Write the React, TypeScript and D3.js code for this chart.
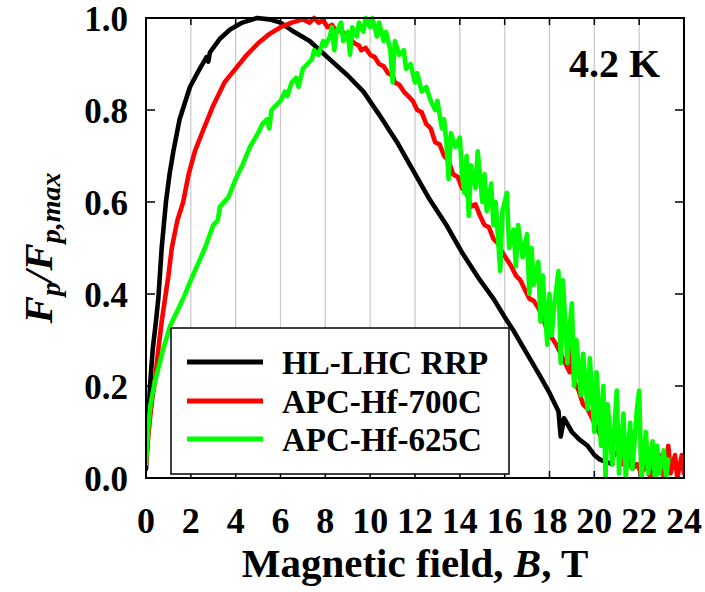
import React from "react";
import * as d3 from "d3";

const xTicks = [0, 2, 4, 6, 8, 10, 12, 14, 16, 18, 20, 22, 24];
const yTicks = [0, 0.2, 0.4, 0.6, 0.8, 1.0];
const seriesNames = ["HL-LHC RRP", "APC-Hf-700C", "APC-Hf-625C"];
const seriesColors = ["#000000", "#ff0000", "#00ff00"];

const blackData: [number, number][] = [
  [0, 0.02], [0.08, 0.1], [0.18, 0.2], [0.3, 0.28], [0.42, 0.33], [0.55, 0.39], [0.7, 0.5],
  [0.89, 0.6], [1.05, 0.66], [1.22, 0.71], [1.5, 0.78], [1.96, 0.85], [2.4, 0.89], [2.7, 0.915],
  [2.78, 0.905], [2.85, 0.925], [3.3, 0.955], [3.75, 0.975], [4.3, 0.99], [4.95, 1.0], [5.5, 0.997],
  [6.0, 0.99], [6.6, 0.97], [7.3, 0.95], [8.2, 0.91], [9.0, 0.875], [9.7, 0.84], [10.4, 0.79],
  [11.2, 0.73], [11.9, 0.67], [12.6, 0.61], [13.4, 0.55], [14.1, 0.49], [14.9, 0.43], [15.5, 0.39],
  [16.0, 0.35], [16.4, 0.32], [17.0, 0.27], [17.6, 0.22], [18.0, 0.185], [18.4, 0.145], [18.5, 0.09],
  [18.65, 0.13], [19.0, 0.1], [19.3, 0.085], [19.7, 0.07], [20.0, 0.05], [20.25, 0.04], [20.8, 0.03],
];

const redData: [number, number][] = [
  [0, 0.03], [0.1, 0.09], [0.2, 0.14], [0.3, 0.18], [0.4, 0.21], [0.55, 0.28], [0.7, 0.34],
  [0.85, 0.39], [1.0, 0.44], [1.15, 0.5], [1.4, 0.56], [1.66, 0.6], [1.9, 0.66], [2.18, 0.71],
  [2.5, 0.75], [3.0, 0.81], [3.5, 0.86], [4.0, 0.89], [4.5, 0.92], [5.0, 0.945], [5.5, 0.965],
  [6.0, 0.98], [6.5, 0.99], [7.0, 0.997], [7.3, 0.99], [7.5, 1.0], [7.7, 0.99], [7.9, 0.995],
  [8.1, 0.98], [8.3, 0.985], [8.5, 0.97], [8.7, 0.975], [8.9, 0.96], [9.1, 0.955], [9.3, 0.945],
  [9.5, 0.94], [9.6, 0.93], [9.8, 0.935], [10.0, 0.92], [10.2, 0.915], [10.4, 0.9], [10.6, 0.895],
  [10.8, 0.88], [11.0, 0.875], [11.1, 0.86], [11.3, 0.855], [11.5, 0.84], [11.7, 0.83], [11.9, 0.82],
  [12.1, 0.8], [12.3, 0.795], [12.5, 0.77], [12.7, 0.76], [12.9, 0.73], [13.1, 0.725], [13.3, 0.7],
  [13.5, 0.69], [13.7, 0.66], [13.9, 0.655], [14.1, 0.63], [14.3, 0.62], [14.5, 0.59], [14.7, 0.595],
  [14.9, 0.57], [15.1, 0.55], [15.3, 0.545], [15.5, 0.52], [15.7, 0.51], [15.9, 0.49], [16.1, 0.475],
  [16.3, 0.46], [16.5, 0.44], [16.7, 0.43], [16.9, 0.41], [17.1, 0.39], [17.3, 0.385], [17.5, 0.37],
  [17.7, 0.35], [17.9, 0.32], [18.1, 0.305], [18.3, 0.29], [18.5, 0.27], [18.7, 0.25], [18.9, 0.23],
  [19.0, 0.3], [19.1, 0.21], [19.3, 0.19], [19.5, 0.16], [19.7, 0.15], [19.9, 0.13], [20.1, 0.11],
  [20.3, 0.09], [20.5, 0.085], [20.7, 0.07], [20.9, 0.05], [21.1, 0.06], [21.3, 0.03], [21.5, 0.04],
  [21.7, 0.02], [21.9, 0.03], [22.1, 0.01], [22.3, 0.03], [22.5, 0.0], [22.7, 0.06], [22.8, 0.01],
  [23.0, 0.05], [23.1, 0.0], [23.3, 0.07], [23.4, 0.01], [23.6, 0.05], [23.7, 0.0], [23.9, 0.05],
  [24.0, 0.01],
];

const greenData: [number, number][] = [
  [0, 0.03], [0.1, 0.11], [0.2, 0.16], [0.4, 0.21], [0.77, 0.28], [1.07, 0.33], [1.66, 0.39],
  [2.0, 0.43], [2.63, 0.5], [3.0, 0.55], [3.2, 0.56], [3.3, 0.59], [3.67, 0.61], [4.0, 0.65],
  [4.3, 0.68], [4.64, 0.72], [5.0, 0.75], [5.2, 0.77], [5.4, 0.78], [5.5, 0.76], [5.6, 0.8],
  [5.8, 0.81], [6.0, 0.82], [6.2, 0.84], [6.3, 0.83], [6.5, 0.86], [6.7, 0.87], [6.8, 0.85],
  [7.0, 0.89], [7.2, 0.9], [7.4, 0.91], [7.5, 0.93], [7.7, 0.92], [7.9, 0.95], [8.0, 0.94],
  [8.2, 0.96], [8.3, 0.98], [8.4, 0.93], [8.5, 0.97], [8.7, 0.99], [8.8, 0.95], [9.0, 0.97],
  [9.1, 0.92], [9.2, 0.98], [9.4, 0.96], [9.5, 0.99], [9.7, 0.97], [9.8, 1.0], [10.0, 0.98],
  [10.1, 1.0], [10.3, 0.96], [10.4, 0.99], [10.6, 0.95], [10.7, 0.97], [10.9, 0.93], [11.0, 0.86],
  [11.1, 0.95], [11.3, 0.92], [11.5, 0.93], [11.6, 0.89], [11.8, 0.9], [12.0, 0.86], [12.1, 0.88],
  [12.3, 0.84], [12.5, 0.85], [12.7, 0.82], [12.9, 0.8], [13.0, 0.82], [13.2, 0.76], [13.3, 0.78],
  [13.4, 0.73], [13.5, 0.65], [13.6, 0.75], [13.8, 0.72], [14.0, 0.74], [14.1, 0.66], [14.2, 0.62],
  [14.3, 0.7], [14.4, 0.57], [14.5, 0.68], [14.7, 0.63], [14.8, 0.71], [15.0, 0.6], [15.1, 0.66],
  [15.2, 0.58], [15.4, 0.64], [15.5, 0.55], [15.6, 0.6], [15.8, 0.45], [15.9, 0.58], [16.1, 0.62],
  [16.2, 0.5], [16.4, 0.54], [16.5, 0.46], [16.6, 0.55], [16.8, 0.48], [17.0, 0.53], [17.1, 0.4],
  [17.2, 0.5], [17.3, 0.42], [17.5, 0.47], [17.6, 0.34], [17.7, 0.44], [17.9, 0.29], [18.0, 0.4],
  [18.1, 0.31], [18.2, 0.37], [18.4, 0.45], [18.5, 0.25], [18.6, 0.43], [18.8, 0.25], [18.9, 0.33],
  [19.0, 0.38], [19.1, 0.2], [19.2, 0.3], [19.4, 0.18], [19.5, 0.27], [19.7, 0.15], [19.8, 0.26],
  [20.0, 0.1], [20.1, 0.23], [20.3, 0.07], [20.4, 0.2], [20.5, 0.0], [20.6, 0.16], [20.8, 0.03],
  [21.0, 0.19], [21.1, 0.01], [21.3, 0.14], [21.4, 0.0], [21.6, 0.12], [21.7, 0.02], [21.9, 0.15],
  [22.0, 0.19], [22.1, 0.0], [22.3, 0.1], [22.4, 0.01], [22.6, 0.08], [22.7, 0.0], [22.8, 0.07],
  [22.9, 0.01], [23.1, 0.06], [23.2, 0.0], [23.3, 0.04],
];

const allSeries = [blackData, redData, greenData];

const W = 705;
const H = 592;
const L = 146, R = 684, T = 18, B = 478;
const FONT = "'Liberation Serif', 'Times New Roman', serif";

export default function App() {
  const x = d3.scaleLinear().domain([0, 24]).range([L, R]);
  const y = d3.scaleLinear().domain([0, 1]).range([B, T]);
  const line = d3
    .line<[number, number]>()
    .x((d) => x(d[0]))
    .y((d) => y(d[1]));

  const legendX = 171, legendY = 328, legendW = 338, legendH = 146;
  const legendRows = [362, 401, 439];

  return (
    <svg width={W} height={H} style={{ position: "absolute", left: 0, top: 0 }} fontFamily={FONT}>
      <rect x={0} y={0} width={W} height={H} fill="#fff" />
      <defs>
        <clipPath id="plotClip">
          <rect x={L} y={T - 4} width={R - L} height={B - T + 4} />
        </clipPath>
      </defs>
      {xTicks.filter((t) => t > 0 && t < 24).map((t) => (
        <line key={"g" + t} x1={x(t)} x2={x(t)} y1={T} y2={B} stroke="#c8c8c8" strokeWidth={1.2} />
      ))}
      {xTicks.map((t) => (
        <g key={"xt" + t}>
          <line x1={x(t)} x2={x(t)} y1={B} y2={B - 7} stroke="#000" strokeWidth={1.5} />
          <line x1={x(t)} x2={x(t)} y1={T} y2={T + 7} stroke="#000" strokeWidth={1.5} />
        </g>
      ))}
      {yTicks.map((t) => (
        <g key={"yt" + t}>
          <line x1={L} x2={L + 9} y1={y(t)} y2={y(t)} stroke="#000" strokeWidth={1.5} />
          <line x1={R} x2={R - 9} y1={y(t)} y2={y(t)} stroke="#000" strokeWidth={1.5} />
        </g>
      ))}
      <g clipPath="url(#plotClip)">
        {allSeries.map((s, i) => (
          <path
            key={"s" + i}
            d={line(s) || ""}
            fill="none"
            stroke={seriesColors[i]}
            strokeWidth={4.6}
            strokeLinejoin="round"
            strokeLinecap="round"
          />
        ))}
      </g>
      <rect x={L} y={T} width={R - L} height={B - T} fill="none" stroke="#000" strokeWidth={2} />
      {xTicks.map((t) => (
        <text key={"xl" + t} x={x(t)} y={533} textAnchor="middle" fontSize={36} fontWeight="bold">
          {t}
        </text>
      ))}
      {yTicks.map((t) => (
        <text key={"yl" + t} x={128} y={y(t) + 13} textAnchor="end" fontSize={35} fontWeight="bold">
          {t.toFixed(1)}
        </text>
      ))}
      <text x={415} y={577} textAnchor="middle" fontSize={41} fontWeight="bold">
        Magnetic field, <tspan fontStyle="italic">B</tspan>, T
      </text>
      <text
        transform={`translate(52, ${(T + B) / 2}) rotate(-90)`}
        textAnchor="middle"
        fontSize={41}
        fontWeight="bold"
        fontStyle="italic"
      >
        F<tspan fontSize={28} dy={8}>p</tspan>
        <tspan dy={-8}>/F</tspan>
        <tspan fontSize={28} dy={8}>p,max</tspan>
      </text>
      <text x={660} y={77} textAnchor="end" fontSize={40} fontWeight="bold">
        4.2 K
      </text>
      <rect x={legendX} y={legendY} width={legendW} height={legendH} fill="#fff" stroke="#000" strokeWidth={1.5} />
      {seriesNames.map((n, i) => (
        <g key={"lg" + i}>
          <line x1={187} x2={263} y1={legendRows[i]} y2={legendRows[i]} stroke={seriesColors[i]} strokeWidth={5} />
          <text x={282} y={legendRows[i] + 12} fontSize={33} fontWeight="bold">
            {n}
          </text>
        </g>
      ))}
    </svg>
  );
}
